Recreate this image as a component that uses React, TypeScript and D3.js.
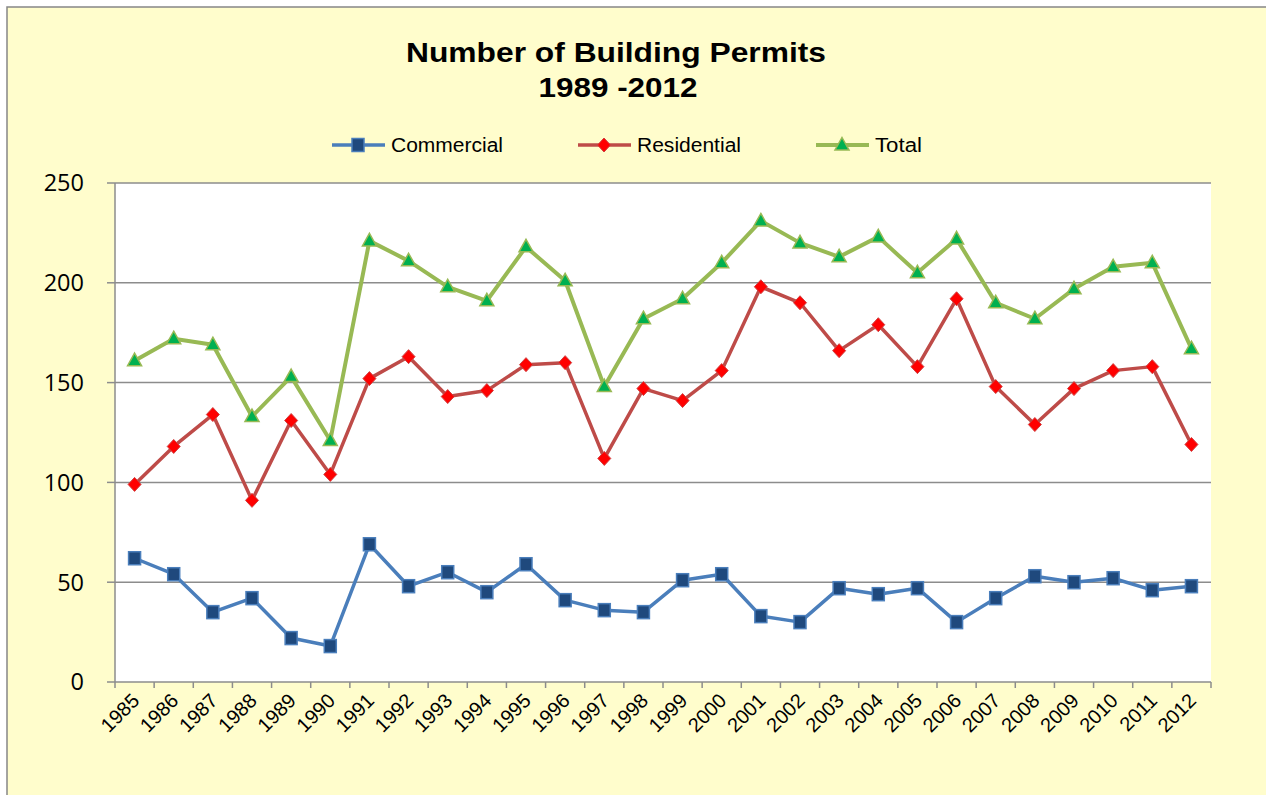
import * as d3 from 'd3';

const YEARS = [
  '1985', '1986', '1987', '1988', '1989', '1990', '1991', '1992', '1993', '1994',
  '1995', '1996', '1997', '1998', '1999', '2000', '2001', '2002', '2003', '2004',
  '2005', '2006', '2007', '2008', '2009', '2010', '2011', '2012',
];

const COMMERCIAL = [62, 54, 35, 42, 22, 18, 69, 48, 55, 45, 59, 41, 36, 35, 51, 54, 33, 30, 47, 44, 47, 30, 42, 53, 50, 52, 46, 48];
const RESIDENTIAL = [99, 118, 134, 91, 131, 104, 152, 163, 143, 146, 159, 160, 112, 147, 141, 156, 198, 190, 166, 179, 158, 192, 148, 129, 147, 156, 158, 119];
const TOTAL = [161, 172, 169, 133, 153, 121, 221, 211, 198, 191, 218, 201, 148, 182, 192, 210, 231, 220, 213, 223, 205, 222, 190, 182, 197, 208, 210, 167];

const Y_TICKS = [0, 50, 100, 150, 200, 250];

const W = 1266;
const H = 795;
const plot = { left: 115, right: 1211, top: 183, bottom: 682 };

type SeriesDef = {
  name: string;
  values: number[];
  line: string;
  lineWidth: number;
  marker: 'square' | 'diamond' | 'triangle';
  fill: string;
  stroke: string;
  legendX: number;
  legendLen: number;
};

const SERIES: SeriesDef[] = [
  { name: 'Commercial', values: COMMERCIAL, line: '#4A7EBB', lineWidth: 3.5, marker: 'square', fill: '#1F497D', stroke: '#4A7EBB', legendX: 332, legendLen: 112 },
  { name: 'Residential', values: RESIDENTIAL, line: '#BE4B48', lineWidth: 3.5, marker: 'diamond', fill: '#FF0000', stroke: '#D04040', legendX: 578, legendLen: 104 },
  { name: 'Total', values: TOTAL, line: '#98B954', lineWidth: 4, marker: 'triangle', fill: '#00B050', stroke: '#98B954', legendX: 816, legendLen: 47 },
];

function Marker({ kind, x, y, fill, stroke }: { kind: string; x: number; y: number; fill: string; stroke: string }) {
  if (kind === 'square') {
    return <rect x={x - 6} y={y - 6.5} width={12} height={13} fill={fill} stroke={stroke} strokeWidth={1.5} />;
  }
  if (kind === 'diamond') {
    return <path d={`M${x},${y - 7}L${x + 6.5},${y}L${x},${y + 7}L${x - 6.5},${y}Z`} fill={fill} stroke={stroke} strokeWidth={1} />;
  }
  return <path d={`M${x},${y - 7.5}L${x + 7},${y + 5}L${x - 7},${y + 5}Z`} fill={fill} stroke={stroke} strokeWidth={1.5} />;
}

export default function App() {
  const x = d3.scaleBand<string>().domain(YEARS).range([plot.left, plot.right]).padding(0);
  const y = d3.scaleLinear().domain([0, 250]).range([plot.bottom, plot.top]);
  const cx = (yr: string) => (x(yr) ?? 0) + x.bandwidth() / 2;
  const lineGen = d3.line<number>().x((_, i) => cx(YEARS[i])).y((d) => y(d));
  const tickXs = [...YEARS.map((yr) => x(yr) ?? 0), plot.right];

  return (
    <svg width={W} height={H} style={{ position: 'absolute', left: 0, top: 0, display: 'block' }}>
      <rect x={0} y={0} width={W} height={H} fill="#FFFFFF" />
      <rect x={7} y={7} width={W + 10} height={H + 10} fill="#FFFDCC" stroke="#878787" strokeWidth={1.5} />

      {/* title */}
      <g fontFamily="Arial, 'Liberation Sans', sans-serif" fontWeight="bold" fill="#000" textAnchor="middle">
        <text x={616} y={62} fontSize={27} textLength={420} lengthAdjust="spacingAndGlyphs">Number of Building Permits</text>
        <text x={618} y={97} fontSize={27} textLength={159} lengthAdjust="spacingAndGlyphs">1989 -2012</text>
      </g>

      {/* legend */}
      {SERIES.map((s) => (
        <g key={s.name}>
          <line x1={s.legendX} x2={s.legendX + 53} y1={145} y2={145} stroke={s.line} strokeWidth={s.lineWidth} />
          <Marker kind={s.marker} x={s.legendX + 26} y={145} fill={s.fill} stroke={s.stroke} />
          <text x={s.legendX + 59} y={145} dy="0.36em" fontSize={20} fontFamily="Arial, 'Liberation Sans', sans-serif" fill="#000" textLength={s.legendLen} lengthAdjust="spacingAndGlyphs">{s.name}</text>
        </g>
      ))}

      {/* plot area */}
      <rect x={plot.left} y={plot.top} width={plot.right - plot.left} height={plot.bottom - plot.top} fill="#FFFFFF" />
      {Y_TICKS.map((t) => (
        <g key={t}>
          {t > 0 && <line x1={plot.left} x2={plot.right} y1={y(t)} y2={y(t)} stroke="#8C8C8C" strokeWidth={1.5} />}
          <line x1={107} x2={plot.left} y1={y(t)} y2={y(t)} stroke="#8C8C8C" strokeWidth={1.5} />
          <text x={84} y={y(t)} dy="0.36em" textAnchor="end" fontSize={23.5} fontFamily="'Open Sans', sans-serif" fill="#000">{t}</text>
        </g>
      ))}
      <line x1={plot.left} x2={plot.left} y1={plot.top} y2={plot.bottom} stroke="#8C8C8C" strokeWidth={1.5} />
      <line x1={plot.left} x2={plot.right} y1={plot.bottom} y2={plot.bottom} stroke="#8C8C8C" strokeWidth={1.5} />
      {tickXs.map((tx, i) => (
        <line key={i} x1={tx} x2={tx} y1={plot.bottom} y2={plot.bottom + 6} stroke="#8C8C8C" strokeWidth={1.5} />
      ))}
      {YEARS.map((yr) => (
        <text
          key={yr}
          transform={`translate(${cx(yr) + 6},${plot.bottom + 20}) rotate(-45)`}
          textAnchor="end"
          fontSize={20}
          fontFamily="Arial, 'Liberation Sans', sans-serif"
          fill="#000"
        >
          {yr}
        </text>
      ))}

      {/* series */}
      {SERIES.map((s) => (
        <g key={s.name}>
          <path d={lineGen(s.values) ?? ''} fill="none" stroke={s.line} strokeWidth={s.lineWidth} strokeLinejoin="round" />
          {s.values.map((v, i) => (
            <Marker key={i} kind={s.marker} x={cx(YEARS[i])} y={y(v)} fill={s.fill} stroke={s.stroke} />
          ))}
        </g>
      ))}
    </svg>
  );
}
